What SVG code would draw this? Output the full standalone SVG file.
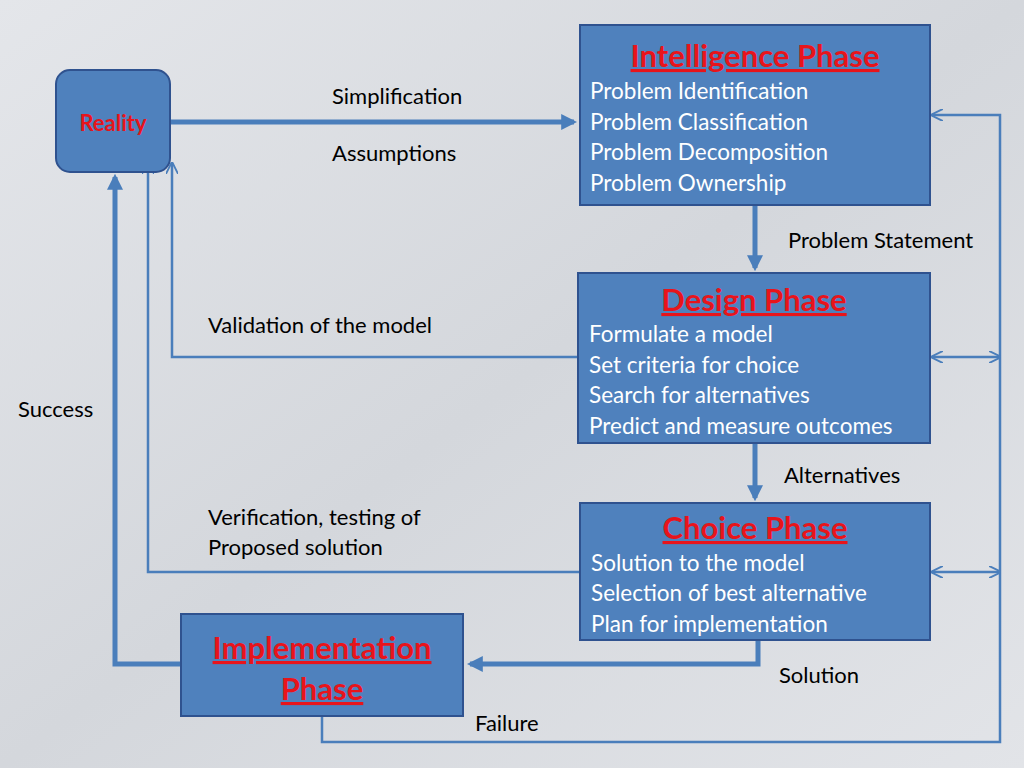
<svg xmlns="http://www.w3.org/2000/svg" width="1024" height="768" viewBox="0 0 1024 768">
<style>
.box{fill:#4f81bd;stroke:#2f528f;stroke-width:2}
.t{font-family:Lato,"Liberation Sans",sans-serif;font-size:22.5px;fill:#fff}
.h{font-family:Lato,"Liberation Sans",sans-serif;font-size:31px;font-weight:bold;fill:#e8141b;text-decoration:underline;text-anchor:middle}
.l{font-family:Lato,"Liberation Sans",sans-serif;font-size:22px;fill:#000}
.thick{fill:none;stroke:#4a7ebb;stroke-width:5}
.thin{fill:none;stroke:#4a7ebb;stroke-width:2.5}
</style>
<defs>
<linearGradient id="bg" x1="0" y1="0" x2="1" y2="1"><stop offset="0" stop-color="#e4e6ea"/><stop offset="0.5" stop-color="#d4d7dc"/><stop offset="1" stop-color="#e2e4e8"/></linearGradient>
<marker id="ab" viewBox="0 0 10 10" refX="8" refY="5" markerWidth="3.2" markerHeight="3.2" orient="auto-start-reverse"><path d="M0,0L10,5L0,10z" fill="#4a7ebb"/></marker>
<marker id="as" viewBox="0 0 10 10" refX="9" refY="5" markerWidth="5" markerHeight="5" orient="auto-start-reverse"><path d="M0,0L10,5L0,10" fill="none" stroke="#4a7ebb" stroke-width="1.5"/></marker>
</defs>
<rect width="1024" height="768" fill="url(#bg)"/>
<g id="connectors">
<path class="thick" d="M170,122H574" marker-end="url(#ab)"/>
<path class="thick" d="M755,205V268" marker-end="url(#ab)"/>
<path class="thick" d="M755,443V498" marker-end="url(#ab)"/>
<path class="thick" d="M758,640V664H470" marker-end="url(#ab)"/>
<path class="thick" d="M181,664H115V177" marker-end="url(#ab)"/>
<path class="thin" d="M578,357H172V163" marker-end="url(#as)"/>
<path class="thin" d="M580,572H148V163" marker-end="url(#as)"/>
<path class="thin" d="M322,716V742H1000V115H932" marker-end="url(#as)"/>
<path class="thin" d="M932,357H1000" marker-start="url(#as)" marker-end="url(#as)"/>
<path class="thin" d="M932,572H1000" marker-start="url(#as)" marker-end="url(#as)"/>
<text class="l" x="332" y="104">Simplification</text>
<text class="l" x="332" y="161">Assumptions</text>
<text class="l" x="788" y="248">Problem Statement</text>
<text class="l" x="784" y="483">Alternatives</text>
<text class="l" x="779" y="683">Solution</text>
<text class="l" x="18" y="417">Success</text>
<text class="l" x="208" y="333">Validation of the model</text>
<text class="l" x="208" y="525">Verification, testing of</text>
<text class="l" x="208" y="555">Proposed solution</text>
<text class="l" x="475" y="731">Failure</text>
</g>
<g id="reality"><rect class="box" x="56" y="70" width="114" height="102" rx="14"/>
<text x="113" y="131" text-anchor="middle" style="font-family:Lato,'Liberation Sans',sans-serif;font-size:22px;font-weight:bold;fill:#e8141b">Reality</text></g>
<g id="intelligence"><rect class="box" x="580" y="25" width="350" height="180"/>
<text class="h" x="755" y="67">Intelligence Phase</text>
<text class="t" x="590" y="99">Problem Identification</text>
<text class="t" x="590" y="130">Problem Classification</text>
<text class="t" x="590" y="160">Problem Decomposition</text>
<text class="t" x="590" y="191">Problem Ownership</text></g>
<g id="design"><rect class="box" x="578" y="273" width="352" height="170"/>
<text class="h" x="754" y="311">Design Phase</text>
<text class="t" x="589" y="342">Formulate a model</text>
<text class="t" x="589" y="373">Set criteria for choice</text>
<text class="t" x="589" y="403">Search for alternatives</text>
<text class="t" x="589" y="434">Predict and measure outcomes</text></g>
<g id="choice"><rect class="box" x="580" y="503" width="350" height="137"/>
<text class="h" x="755" y="539">Choice Phase</text>
<text class="t" x="591" y="571">Solution to the model</text>
<text class="t" x="591" y="601">Selection of best alternative</text>
<text class="t" x="591" y="632">Plan for implementation</text></g>
<g id="implementation"><rect class="box" x="181" y="614" width="282" height="102"/>
<text class="h" x="322" y="659">Implementation</text>
<text class="h" x="322" y="700">Phase</text></g>
</svg>
